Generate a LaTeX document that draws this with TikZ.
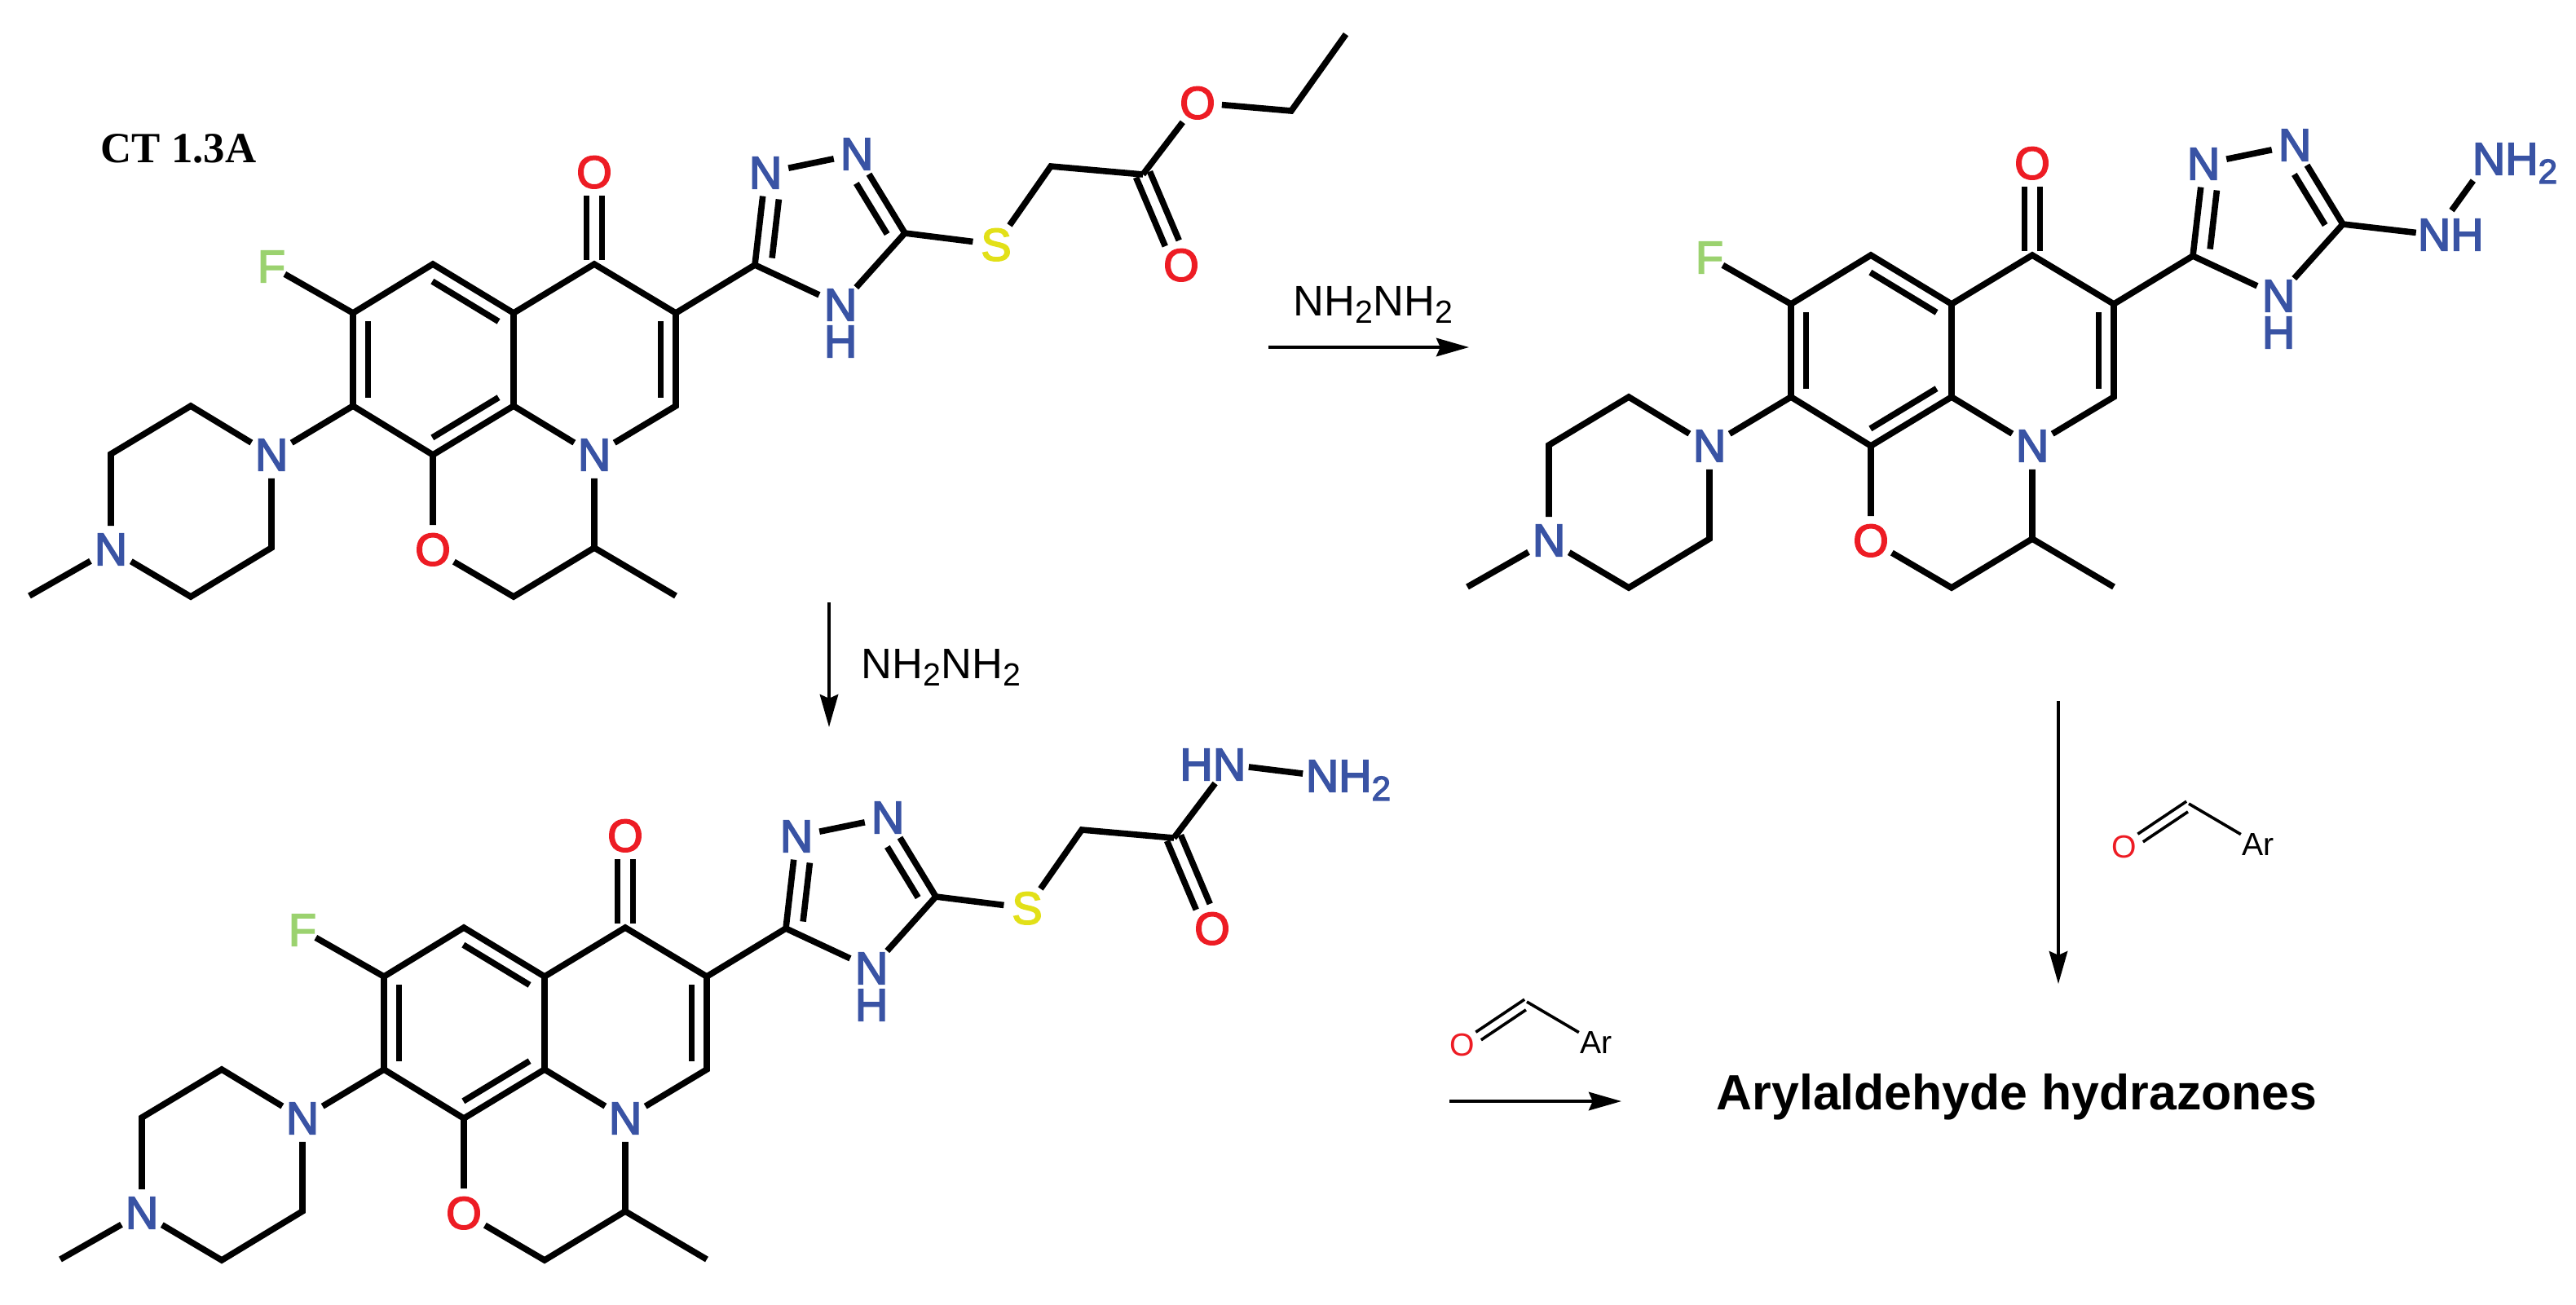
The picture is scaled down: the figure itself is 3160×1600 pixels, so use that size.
\documentclass[tikz,border=0pt]{standalone}
\usepackage{fontspec}
\usetikzlibrary{calc,arrows.meta}
\newfontfamily\arialfont{Liberation Sans}
\newfontfamily\atomfont[FakeBold=3]{Liberation Sans}
\newfontfamily\timesfont{Liberation Serif}
\definecolor{nblue}{HTML}{3953A4}
\definecolor{ored}{HTML}{ED1C24}
\definecolor{fgreen}{HTML}{9BD26F}
\definecolor{syellow}{HTML}{E2E018}
\tikzset{
	bond/.style={line width=1.9pt, black},
	thinbond/.style={line width=0.9pt, black},
	atom/.style={circle, inner sep=0pt, minimum size=14pt, text depth=0pt, text=#1, font=\atomfont\fontsize{14pt}{14pt}\selectfont},
	smallatom/.style={circle, inner sep=0pt, text depth=0pt, text=#1, font=\arialfont\fontsize{9.8pt}{10pt}\selectfont},
	rxn/.style={line width=1pt, -{Stealth[length=10pt, width=5.6pt, inset=1.2pt]}},
	reagent/.style={anchor=base west, inner sep=0pt, font=\arialfont\fontsize{13.1pt}{14pt}\selectfont}
}
\newcommand{\subtwo}{\raisebox{-0.19em}{\scalebox{0.75}{2}}}
\newcommand{\offbond}[6][bond]{\draw[#1, shorten <=#5, shorten >=#6] ($(#2)!#4!90:(#3)$) -- ($(#3)!#4!-90:(#2)$);}
\newcommand{\coremol}{
	\coordinate (cF) at (433,384);
	\coordinate (cH) at (531,324);
	\coordinate (c4a) at (630,384);
	\coordinate (c4) at (729,324);
	\coordinate (c3) at (829,384);
	\coordinate (c2) at (829,498);
	\coordinate (c8a) at (630,498);
	\coordinate (c8b) at (531,558);
	\coordinate (cN) at (433,498);
	\coordinate (pipA) at (234,498);
	\coordinate (pipB) at (136,557);
	\coordinate (pipC) at (234,732);
	\coordinate (pipD) at (333,672);
	\coordinate (meN) at (36,731);
	\coordinate (cHtwo) at (630,732);
	\coordinate (cMe) at (729,672);
	\coordinate (meC) at (829,731);
	\coordinate (triC) at (926,325);
	\coordinate (triS) at (1110,286);
	\node[atom=nblue](n1) at (729,558){N};
	\node[atom=nblue](nPip) at (333,558){N};
	\node[atom=nblue](nMe) at (136,674){N};
	\node[atom=ored](oRing) at (531,674){O};
	\node[atom=ored](oKeto) at (729,211){O};
	\node[atom=fgreen](fluoro) at (333,327){F};
	\node[atom=nblue](nA) at (939,212){N};
	\node[atom=nblue](nB) at (1051,189){N};
	\node[atom=nblue](nH) at (1031,374){N};
	\node[atom=nblue](hH) at (1031,419){H};
	\draw[bond] (n1) -- (c8a) -- (c8b) -- (cN) -- (cF) -- (cH) -- (c4a) -- (c4) -- (c3) -- (c2) -- (n1);
	\draw[bond] (c4a) -- (c8a);
	\draw[bond] (cN) -- (nPip) -- (pipA) -- (pipB) -- (nMe) -- (pipC) -- (pipD) -- (nPip);
	\draw[bond] (nMe) -- (meN);
	\draw[bond, shorten >=-2.5pt] (cF) -- (fluoro);
	\draw[bond] (c8b) -- (oRing) -- (cHtwo) -- (cMe) -- (n1);
	\draw[bond] (cMe) -- (meC);
	\draw[bond] (c3) -- (triC) -- (nA) -- (nB) -- (triS) -- (nH) -- (triC);
	\offbond{cF}{cN}{4.6pt}{2.6pt}{2.6pt}
	\offbond{c4a}{cH}{4.6pt}{2.6pt}{2.6pt}
	\offbond{c8b}{c8a}{4.6pt}{2.6pt}{2.6pt}
	\offbond{c2}{c3}{4.6pt}{2.6pt}{2.6pt}
	\offbond{nA}{triC}{5pt}{7.6pt}{2.7pt}
	\offbond{triS}{nB}{4.8pt}{2.6pt}{7.6pt}
	\offbond{c4}{oKeto}{2.4pt}{1.2pt}{7.2pt}
	\offbond{c4}{oKeto}{-2.4pt}{1.2pt}{7.2pt}
}
\newcommand{\thiochain}{
	\coordinate (cHS) at (1289,204);
	\coordinate (cCO) at (1402,214);
	\node[atom=syellow](sulfur) at (1222,300){S};
	\node[atom=ored](oCarb) at (1449,325){O};
	\draw[bond] (triS) -- (sulfur) -- (cHS) -- (cCO);
	\offbond{cCO}{oCarb}{2.3pt}{0pt}{7.2pt}
	\offbond{cCO}{oCarb}{-2.3pt}{0pt}{7.2pt}
}
\newcommand{\aldehyde}{
	\coordinate (apex) at (1873,1229);
	\node[smallatom=ored](oAld) at (1794,1282){O};
	\node[smallatom=black](ar) at (1958,1279){Ar};
	\draw[thinbond] (apex) -- (ar);
	\offbond[thinbond]{apex}{oAld}{-1pt}{0.2pt}{5.6pt}
	\offbond[thinbond]{apex}{oAld}{1.9pt}{1.6pt}{5.6pt}
}
\begin{document}
\begin{tikzpicture}[x=0.25pt, y=-0.25pt]
	\useasboundingbox (0,0) rectangle (3160,1600);

	\node[anchor=base west, inner sep=0pt, font=\timesfont\bfseries\fontsize{13.2pt}{14pt}\selectfont](ctLabel) at (123,199){CT 1.3A};

	\begin{scope}[name prefix=ester-]
		\coremol
		\thiochain
		\coordinate (cEt) at (1584,136);
		\coordinate (meEt) at (1651,42);
		\node[atom=ored](oEster) at (1469,126){O};
		\draw[bond] (cCO) -- (oEster) -- (cEt) -- (meEt);
	\end{scope}

	\begin{scope}[shift={(1764,-11)}, name prefix=hyd-]
		\coremol
		\node[atom=nblue](nhOne) at (1222,299){N\rlap{H}};
		\node[atom=nblue](nhTwo) at (1289,206){N\rlap{H\subtwo}};
		\draw[bond, shorten >=-1.6pt] (triS) -- (nhOne);
		\draw[bond, shorten <=2pt, shorten >=1pt] (nhOne) -- (nhTwo);
	\end{scope}

	\begin{scope}[shift={(38,814)}, name prefix=acyl-]
		\coremol
		\thiochain
		\node[atom=nblue](nhOne) at (1470,124){\llap{H}N};
		\node[atom=nblue](nhTwo) at (1584,138){N\rlap{H\subtwo}};
		\draw[bond] (cCO) -- (nhOne);
		\draw[bond, shorten <=-1.2pt, shorten >=-1.2pt] (nhOne) -- (nhTwo);
	\end{scope}

	\coordinate (arrowAs) at (1556,426);
	\coordinate (arrowAe) at (1802,426);
	\coordinate (arrowBs) at (1017,739);
	\coordinate (arrowBe) at (1017,892);
	\coordinate (arrowCs) at (2525,860);
	\coordinate (arrowCe) at (2525,1207);
	\coordinate (arrowDs) at (1778,1351);
	\coordinate (arrowDe) at (1989,1351);
	\draw[rxn] (arrowAs) -- (arrowAe);
	\draw[rxn] (arrowBs) -- (arrowBe);
	\draw[rxn] (arrowCs) -- (arrowCe);
	\draw[rxn] (arrowDs) -- (arrowDe);

	\node[reagent](reagentA) at (1586,387){NH\subtwo NH\subtwo};
	\node[reagent](reagentB) at (1056,832){NH\subtwo NH\subtwo};

	\begin{scope}[name prefix=lowAld-]
		\aldehyde
	\end{scope}
	\begin{scope}[shift={(812,-243)}, name prefix=upAld-]
		\aldehyde
	\end{scope}

	\node[anchor=base west, inner sep=0pt, font=\arialfont\bfseries\fontsize{15.2pt}{16pt}\selectfont](product) at (2105,1361){Arylaldehyde hydrazones};
\end{tikzpicture}
\end{document}
